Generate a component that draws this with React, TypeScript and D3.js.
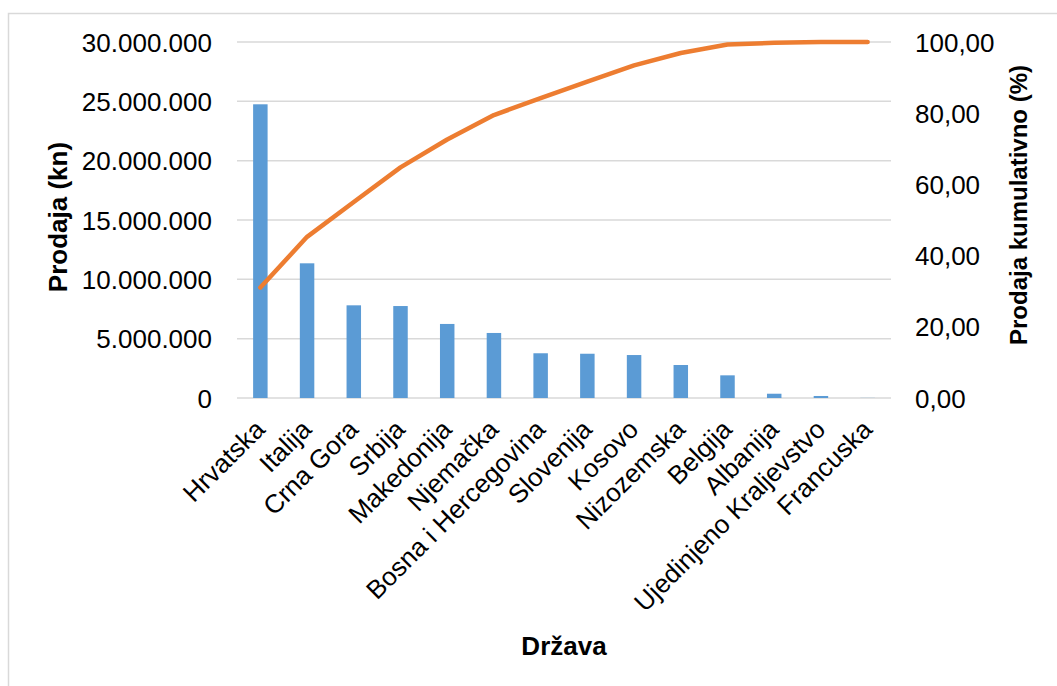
import React from "react";
import * as d3 from "d3";

const countries = [
  "Hrvatska",
  "Italija",
  "Crna Gora",
  "Srbija",
  "Makedonija",
  "Njemačka",
  "Bosna i Hercegovina",
  "Slovenija",
  "Kosovo",
  "Nizozemska",
  "Belgija",
  "Albanija",
  "Ujedinjeno Kraljevstvo",
  "Francuska",
];
const sales = [
  24750000, 11350000, 7810000, 7750000, 6240000, 5480000, 3770000, 3730000,
  3620000, 2780000, 1910000, 360000, 170000, 10000,
];
const cumulative = [
  31.04, 45.27, 55.07, 64.78, 72.61, 79.48, 84.21, 88.89, 93.43, 96.91, 99.31,
  99.76, 99.97, 100,
];
const leftTicks = [0, 5000000, 10000000, 15000000, 20000000, 25000000, 30000000];
const rightTicks = [0, 20, 40, 60, 80, 100];

const W = 1057;
const H = 686;
const plot = { left: 237, right: 891, top: 42, bottom: 398 };
const FONT = "'Liberation Sans', Arial, sans-serif";

const locale = d3.formatLocale({
  decimal: ",",
  thousands: ".",
  grouping: [3],
  currency: ["", ""],
});
const fmtLeft = locale.format(",.0f");
const fmtRight = locale.format(",.2f");

export default function App() {
  const x = d3
    .scaleBand<string>()
    .domain(countries)
    .range([plot.left, plot.right])
    .paddingInner(0.69)
    .paddingOuter(0.345);
  const yL = d3.scaleLinear().domain([0, 30000000]).range([plot.bottom, plot.top]);
  const yR = d3.scaleLinear().domain([0, 100]).range([plot.bottom, plot.top]);
  const band = (plot.right - plot.left) / countries.length;
  const cx = (i: number) => plot.left + band * (i + 0.5);

  const line = d3
    .line<number>()
    .x((_, i) => cx(i))
    .y((d) => yR(d));

  return (
    <svg
      width={W}
      height={H}
      style={{ position: "absolute", left: 0, top: 0, background: "#fff" }}
      fontFamily={FONT}
    >
      <rect x={8.5} y={13.5} width={1100} height={700} fill="#fff" stroke="#D9D9D9" strokeWidth={1.5} />
      {leftTicks.map((t) => (
        <line
          key={"g" + t}
          x1={plot.left}
          x2={plot.right}
          y1={yL(t)}
          y2={yL(t)}
          stroke="#D9D9D9"
          strokeWidth={1.5}
        />
      ))}
      {sales.map((v, i) => (
        <rect
          key={"b" + i}
          x={cx(i) - x.bandwidth() / 2}
          y={yL(v)}
          width={x.bandwidth()}
          height={plot.bottom - yL(v)}
          fill="#5B9BD5"
        />
      ))}
      <path
        d={line(cumulative) || ""}
        fill="none"
        stroke="#ED7D31"
        strokeWidth={4.5}
        strokeLinejoin="round"
        strokeLinecap="round"
      />
      {leftTicks.map((t) => (
        <text key={"l" + t} x={212} y={yL(t) + 9.5} textAnchor="end" fontSize={26} fill="#000">
          {fmtLeft(t)}
        </text>
      ))}
      {rightTicks.map((t) => (
        <text key={"r" + t} x={915} y={yR(t) + 9.5} textAnchor="start" fontSize={26} fill="#000">
          {fmtRight(t)}
        </text>
      ))}
      {countries.map((c, i) => (
        <text
          key={"c" + c}
          transform={`translate(${cx(i) + 6},${431}) rotate(-45)`}
          textAnchor="end"
          fontSize={26}
          fill="#000"
        >
          {c}
        </text>
      ))}
      <text
        transform={`translate(67,217) rotate(-90)`}
        textAnchor="middle"
        fontSize={26}
        fontWeight="bold"
        fill="#000"
      >
        Prodaja (kn)
      </text>
      <text
        transform={`translate(1027,205) rotate(-90)`}
        textAnchor="middle"
        fontSize={24}
        fontWeight="bold"
        fill="#000"
      >
        Prodaja kumulativno (%)
      </text>
      <text x={(plot.left + plot.right) / 2} y={655} textAnchor="middle" fontSize={26} fontWeight="bold" fill="#000">
        Država
      </text>
    </svg>
  );
}
